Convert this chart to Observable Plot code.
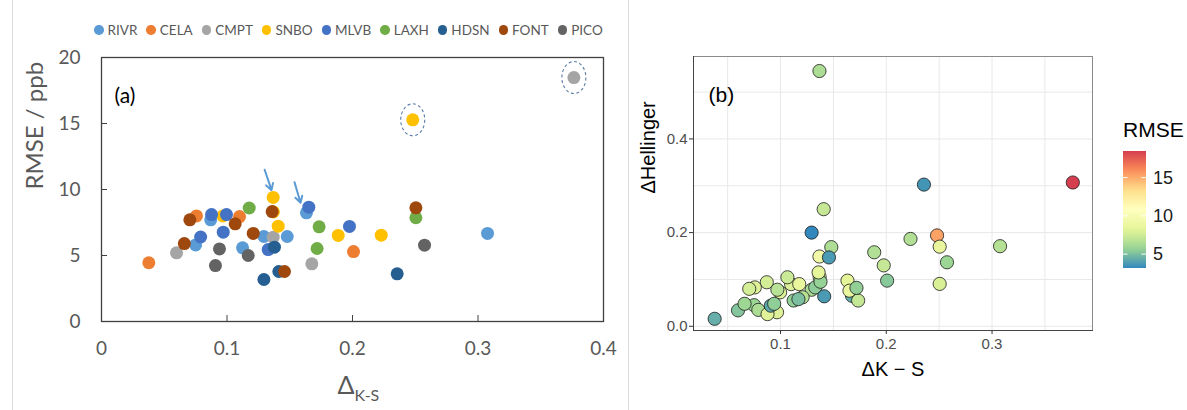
<!DOCTYPE html>
<html><head><meta charset="utf-8">
<script src="https://cdn.jsdelivr.net/npm/d3@7"></script>
<script src="https://cdn.jsdelivr.net/npm/@observablehq/plot@0.6"></script>
<style>
body{margin:0;background:#fff;}
#wrap{position:relative;width:1187px;height:410px;overflow:hidden;background:#fff;}
#wrap > *{position:absolute;}
.sep{top:0;width:1px;height:410px;background:#dcdcdc;}
#legA{top:22px;left:94px;display:flex;align-items:center;font-family:Lato,sans-serif;font-size:13.5px;color:#595959;white-space:nowrap;}
#legA .it{display:flex;align-items:center;margin-right:9px;}
#legA .dot{width:9.5px;height:9.5px;border-radius:50%;margin-right:4px;}
</style></head><body><div id="wrap"></div><script>
// ---- data ----
const station = ["RIVR","RIVR","RIVR","RIVR","RIVR","RIVR","RIVR",
  "CELA","CELA","CELA","CELA",
  "CMPT","CMPT","CMPT","CMPT",
  "SNBO","SNBO","SNBO","SNBO","SNBO","SNBO","SNBO",
  "MLVB","MLVB","MLVB","MLVB","MLVB","MLVB","MLVB",
  "LAXH","LAXH","LAXH","LAXH",
  "HDSN","HDSN","HDSN","HDSN",
  "FONT","FONT","FONT","FONT","FONT","FONT","FONT",
  "PICO","PICO","PICO","PICO"];
const deltaKS = [0.075,0.087,0.1124,0.1294,0.148,0.1633,0.3076,
  0.0377,0.0757,0.110,0.2008,
  0.0598,0.1368,0.1676,0.3764,
  0.0967,0.1368,0.137,0.1408,0.1886,0.2229,0.248,
  0.079,0.0877,0.0996,0.097,0.1328,0.1652,0.1976,
  0.1177,0.1734,0.1718,0.2505,
  0.1294,0.1378,0.1413,0.2356,
  0.066,0.0704,0.1065,0.1209,0.136,0.1458,0.2505,
  0.0908,0.094,0.1169,0.2574];
const rmse = [5.8,7.7,5.58,6.44,6.44,8.23,6.67,
  4.45,8.0,7.95,5.3,
  5.2,6.39,4.37,18.48,
  8.0,9.4,8.3,7.22,6.52,6.54,15.28,
  6.4,8.1,8.1,6.77,5.45,8.66,7.2,
  8.6,7.17,5.53,7.86,
  3.18,5.63,3.79,3.61,
  5.9,7.7,7.4,6.67,8.33,3.79,8.61,
  4.24,5.5,5.0,5.78];
const deltaHellinger = [0.045,0.094,0.055,0.078,0.169,0.0975,0.171,
  0.016,0.083,0.090,0.0975,
  0.034,0.545,0.065,0.307,
  0.030,0.149,0.105,0.25,0.158,0.1865,0.194,
  0.035,0.026,0.0725,0.078,0.083,0.076,0.13,
  0.09,0.055,0.082,0.0905,
  0.20,0.095,0.064,0.3025,
  0.048,0.080,0.1046,0.062,0.115,0.147,0.17,
  0.044,0.048,0.058,0.1366];
const stationOrder = ["RIVR","CELA","CMPT","SNBO","MLVB","LAXH","HDSN","FONT","PICO"];
const stationColors = ["#5B9BD5","#ED7D31","#A5A5A5","#FFC000","#4472C4","#70AD47","#255E91","#9E480E","#636363"];
const circledIdx = [14, 21];
const arrowsA = [{x1:0.130,y1:11.5,x2:0.1355,y2:9.95},{x1:0.1538,y1:10.55,x2:0.1586,y2:9.0}];
const xTicksA = [0,0.1,0.2,0.3,0.4];
const yTicksA = [0,5,10,15,20];
const xTicksB = [0.1,0.2,0.3];
const yTicksB = [0.0,0.2,0.4];
const gridXB = [0.05,0.1,0.15,0.2,0.25,0.3,0.35];
const gridYB = [0,0.1,0.2,0.3,0.4,0.5];
const legendTicksB = [5,10,15];
const spectral = ["#3288BD","#99D594","#E6F598","#FFFFBF","#FEE08B","#FC8D59","#D53E4F"];

const rows = station.map((s,i)=>({station:s, ks:deltaKS[i], rmse:rmse[i], hel:deltaHellinger[i]}));
const circledRows = circledIdx.map(i=>rows[i]);
const rMin = d3.min(rmse), rMax = d3.max(rmse);
const colorDomain = spectral.map((_,i)=> rMin + i*(rMax-rMin)/(spectral.length-1));

const wrap = document.getElementById("wrap");

// ellipse symbol for highlighted points
const ellipse = {draw(ctx){ const rx=12, ry=16, k=0.5523;
  ctx.moveTo(rx,0);
  ctx.bezierCurveTo(rx, ry*k, rx*k, ry, 0, ry);
  ctx.bezierCurveTo(-rx*k, ry, -rx, ry*k, -rx, 0);
  ctx.bezierCurveTo(-rx, -ry*k, -rx*k, -ry, 0, -ry);
  ctx.bezierCurveTo(rx*k, -ry, rx, -ry*k, rx, 0);
  ctx.closePath(); }};

// ---- panel a ----
const plotA = Plot.plot({
  width: 628, height: 410, marginLeft: 101, marginRight: 25, marginTop: 57, marginBottom: 89,
  style: {fontFamily: "Lato, sans-serif", background: "transparent", overflow: "visible"},
  x: {domain: [0, 0.4]}, y: {domain: [0, 20]},
  color: {domain: stationOrder, range: stationColors},
  marks: [
    Plot.axisY(yTicksA, {tickSize: 0, tickPadding: 21, fontSize: 19, fill: "#595959", label: null, tickFormat: d => String(d)}),
    Plot.axisY(yTicksA.slice(1, -1), {tickSize: -6, tickFormat: () => "", stroke: "#404040", label: null}),
    Plot.axisX(xTicksA, {tickSize: 0, tickPadding: 20, fontSize: 19, fill: "#595959", label: null, tickFormat: d => String(d)}),
    Plot.axisX(xTicksA.slice(1, -1), {tickSize: -6, tickFormat: () => "", stroke: "#404040", label: null}),
    Plot.frame({stroke: "#404040", strokeWidth: 1.3}),
    Plot.dot(rows, {x: "ks", y: "rmse", fill: "station", r: 6.5}),
    Plot.dot(circledRows, {x: "ks", y: "rmse", symbol: ellipse, fill: "none", stroke: "#5a7ca6", strokeWidth: 1.1, strokeDasharray: "3,2.5"}),
    Plot.arrow(arrowsA, {x1: "x1", y1: "y1", x2: "x2", y2: "y2", stroke: "#5B9BD5", strokeWidth: 2, headLength: 7}),
    Plot.text(["(a)"], {text: d => d, frameAnchor: "top-left", textAnchor: "start", dx: 13, dy: 31, fontSize: 21, fill: "#000"}),
    Plot.text(["RMSE / ppb"], {text: d => d, frameAnchor: "left", rotate: -90, dx: -66, fontSize: 24, fill: "#595959"}),
    Plot.text(["Δ"], {text: d => d, frameAnchor: "bottom", textAnchor: "end", dx: 2, dy: 72, fontSize: 25, fill: "#595959"}),
    Plot.text(["K-S"], {text: d => d, frameAnchor: "bottom", textAnchor: "start", dx: 2, dy: 79, fontSize: 16, fill: "#595959"})
  ]
});
plotA.style.left = "0px"; plotA.style.top = "0px";
wrap.appendChild(plotA);

// legend a
const legA = document.createElement("div");
legA.id = "legA";
stationOrder.forEach((s, i) => {
  const it = document.createElement("div"); it.className = "it";
  const dot = document.createElement("span"); dot.className = "dot"; dot.style.background = stationColors[i];
  const lab = document.createElement("span"); lab.textContent = s;
  it.appendChild(dot); it.appendChild(lab); legA.appendChild(it);
});
wrap.appendChild(legA);

// ---- panel b ----
const plotB = Plot.plot({
  width: 559, height: 410, marginLeft: 65, marginRight: 95, marginTop: 56, marginBottom: 80,
  style: {fontFamily: "'Liberation Sans', Arial, sans-serif", background: "transparent", overflow: "visible"},
  x: {domain: [0.0177, 0.395]}, y: {domain: [-0.009, 0.576]},
  color: {type: "linear", domain: colorDomain, range: spectral},
  marks: [
    Plot.gridX(gridXB, {stroke: "#e8e8e8", strokeOpacity: 1}),
    Plot.gridY(gridYB, {stroke: "#e8e8e8", strokeOpacity: 1}),
    Plot.frame({stroke: "#8a8a8a"}),
    Plot.frame({anchor: "left", stroke: "#444"}),
    Plot.frame({anchor: "bottom", stroke: "#444"}),
    Plot.axisX(xTicksB, {tickSize: 4, tickPadding: 4, fontSize: 15, fill: "#4d4d4d", stroke: "#333", label: null, tickFormat: d3.format(".1f")}),
    Plot.axisY(yTicksB, {tickSize: 4, tickPadding: 2, fontSize: 15, fill: "#4d4d4d", stroke: "#333", label: null, tickFormat: d3.format(".1f")}),
    Plot.dot(rows, {x: "ks", y: "hel", fill: "rmse", r: 6.6, stroke: "#1a1a1a", strokeWidth: 0.8}),
    Plot.text(["(b)"], {text: d => d, frameAnchor: "top-left", textAnchor: "start", dx: 15, dy: 31, fontSize: 21, fill: "#000"}),
    Plot.text(["ΔHellinger"], {text: d => d, frameAnchor: "left", rotate: -90, dx: -45, fontSize: 20, fill: "#000"}),
    Plot.text(["ΔK − S"], {text: d => d, frameAnchor: "bottom", dy: 45, fontSize: 20, fill: "#000"})
  ]
});
plotB.style.left = "628px"; plotB.style.top = "0px";
wrap.appendChild(plotB);

// colorbar legend b
const colorScale = plotB.scale("color");
const cb = d3.create("svg").attr("width", 1187).attr("height", 410)
  .style("left", "0px").style("top", "0px").style("pointer-events", "none")
  .style("font-family", "'Liberation Sans', Arial, sans-serif");
const cbY = d3.scaleLinear().domain([rMin, rMax]).range([268, 151]);
const grad = cb.append("defs").append("linearGradient").attr("id", "cbg")
  .attr("x1", 0).attr("y1", 1).attr("x2", 0).attr("y2", 0);
d3.range(0, 1.0001, 0.05).forEach(t => {
  grad.append("stop").attr("offset", t).attr("stop-color", colorScale.apply(rMin + t * (rMax - rMin)));
});
const bx = 1123, bw = 23;
cb.append("rect").attr("x", bx).attr("y", cbY(rMax)).attr("width", bw).attr("height", cbY(rMin) - cbY(rMax)).attr("fill", "url(#cbg)");
legendTicksB.forEach(v => {
  const y = cbY(v);
  cb.append("line").attr("x1", bx).attr("x2", bx + 4.5).attr("y1", y).attr("y2", y).attr("stroke", "#fff");
  cb.append("line").attr("x1", bx + bw - 4.5).attr("x2", bx + bw).attr("y1", y).attr("y2", y).attr("stroke", "#fff");
  cb.append("text").attr("x", bx + bw + 7).attr("y", y).attr("dy", "0.35em").attr("font-size", 18).attr("fill", "#1a1a1a").text(v);
});
cb.append("text").attr("x", bx).attr("y", 137).attr("font-size", 21).attr("fill", "#000").text("RMSE");
wrap.appendChild(cb.node());

// separators
[12, 628].forEach(x => { const d = document.createElement("div"); d.className = "sep"; d.style.left = x + "px"; wrap.appendChild(d); });
</script></body></html>
